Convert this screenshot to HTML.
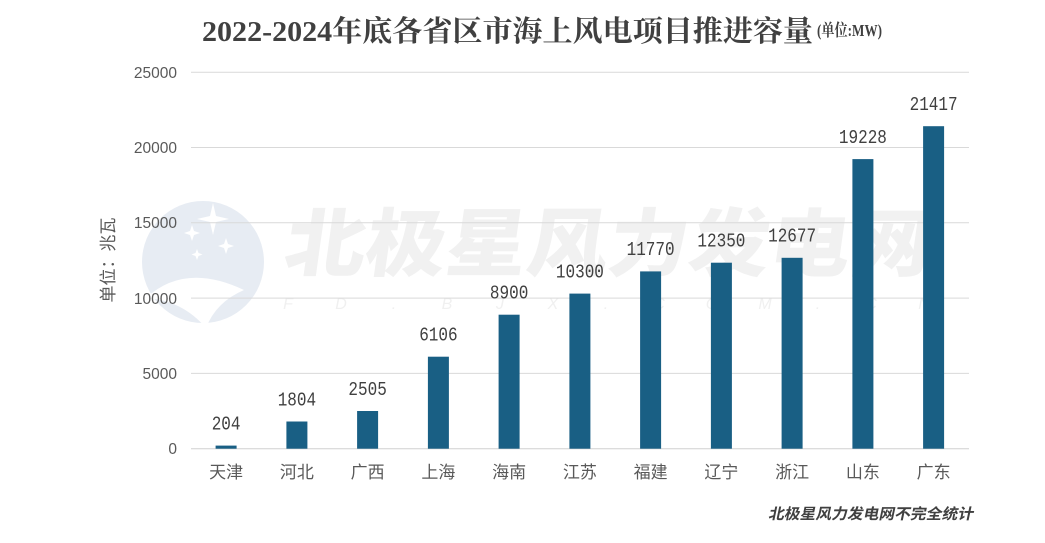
<!DOCTYPE html>
<html>
<head>
<meta charset="utf-8">
<style>
  html,body{margin:0;padding:0;background:#fff;}
  svg{display:block;}
</style>
</head>
<body>
<svg width="1045" height="543" viewBox="0 0 1045 543" xmlns="http://www.w3.org/2000/svg">
  <rect width="1045" height="543" fill="#ffffff"/>

  <!-- Watermark logo -->
  <g>
    <circle cx="203" cy="262" r="61" fill="#e7ecf3"/>
    <path d="M146 298 Q185 262 244 290 Q216 302 206 328 Q182 300 146 298 Z" fill="#ffffff"/>
    <path d="M213 203 l3 13 l13 3 l-13 3 l-3 13 l-3 -13 l-13 -3 l13 -3 z" fill="#ffffff"/>
    <path d="M192 225 l2 6 l6 2 l-6 2 l-2 6 l-2 -6 l-6 -2 l6 -2 z" fill="#ffffff"/>
    <path d="M226 238 l2 6 l6 2 l-6 2 l-2 6 l-2 -6 l-6 -2 l6 -2 z" fill="#ffffff"/>
    <path d="M197 249 l1.5 4 l4 1.5 l-4 1.5 l-1.5 4 l-1.5 -4 l-4 -1.5 l4 -1.5 z" fill="#ffffff"/>
  </g>
  <!-- Watermark text -->
  <g transform="translate(282,270) skewX(-8)">
    <text x="0" y="0" font-family="'Noto Sans CJK SC', sans-serif" font-weight="900" font-size="74" fill="#f1f1f1" textLength="646" lengthAdjust="spacingAndGlyphs">北极星风力发电网</text>
  </g>
  <g font-family="'Liberation Sans', sans-serif" font-style="italic" font-size="16" fill="#f0f0f0" text-anchor="middle">
    <text x="288" y="309">F</text><text x="341" y="309">D</text><text x="394" y="309">.</text>
    <text x="447" y="309">B</text><text x="500" y="309">J</text><text x="553" y="309">X</text>
    <text x="606" y="309">.</text><text x="659" y="309">C</text><text x="712" y="309">O</text>
    <text x="765" y="309">M</text><text x="818" y="309">.</text><text x="871" y="309">C</text>
    <text x="924" y="309">N</text>
  </g>

  <!-- Title -->
  <text x="202" y="41" font-family="'Liberation Serif','Noto Serif CJK SC',serif" font-weight="bold" font-size="29" fill="#404040" textLength="611" lengthAdjust="spacingAndGlyphs">2022-2024年底各省区市海上风电项目推进容量</text>
  <text x="817" y="36" font-family="'Liberation Serif','Noto Serif CJK SC',serif" font-weight="bold" font-size="17" fill="#404040" textLength="65" lengthAdjust="spacingAndGlyphs">(单位:MW)</text>

  <!-- Gridlines -->
  <g stroke="#d9d9d9" stroke-width="1">
    <line x1="191" y1="72.2" x2="969" y2="72.2"/>
    <line x1="191" y1="147.5" x2="969" y2="147.5"/>
    <line x1="191" y1="222.8" x2="969" y2="222.8"/>
    <line x1="191" y1="298.1" x2="969" y2="298.1"/>
    <line x1="191" y1="373.4" x2="969" y2="373.4"/>
    <line x1="191" y1="448.7" x2="969" y2="448.7" stroke="#d0d0d0"/>
  </g>

  <!-- Y tick labels -->
  <g font-family="'Liberation Sans', sans-serif" font-size="15.5" fill="#595959" text-anchor="end">
    <text x="177" y="78">25000</text>
    <text x="177" y="153">20000</text>
    <text x="177" y="228">15000</text>
    <text x="177" y="304">10000</text>
    <text x="177" y="379">5000</text>
    <text x="177" y="454">0</text>
  </g>

  <!-- Y axis title -->
  <text transform="translate(114,260) rotate(-90)" text-anchor="middle" font-family="'Liberation Sans','Noto Sans CJK SC',sans-serif" font-size="17" fill="#595959">单位：兆瓦</text>

  <!-- Bars -->
  <g fill="#195f84">
    <rect x="215.6" y="445.6" width="21" height="3.1"/>
    <rect x="286.4" y="421.5" width="21" height="27.2"/>
    <rect x="357.1" y="411.0" width="21" height="37.7"/>
    <rect x="427.9" y="356.7" width="21" height="92.0"/>
    <rect x="498.6" y="314.7" width="21" height="134.0"/>
    <rect x="569.4" y="293.6" width="21" height="155.1"/>
    <rect x="640.1" y="271.4" width="21" height="177.3"/>
    <rect x="710.9" y="262.7" width="21" height="186.0"/>
    <rect x="781.6" y="257.8" width="21" height="190.9"/>
    <rect x="852.4" y="159.1" width="21" height="289.6"/>
    <rect x="923.1" y="126.2" width="21" height="322.5"/>
  </g>

  <!-- Value labels -->
  <g font-family="'Liberation Mono', monospace" font-size="16" fill="#404040" text-anchor="middle">
    <text transform="translate(226.1,429.3) scale(1,1.2)">204</text>
    <text transform="translate(296.9,405.3) scale(1,1.2)">1804</text>
    <text transform="translate(367.6,394.8) scale(1,1.2)">2505</text>
    <text transform="translate(438.4,340.5) scale(1,1.2)">6106</text>
    <text transform="translate(509.1,298.5) scale(1,1.2)">8900</text>
    <text transform="translate(579.9,277.4) scale(1,1.2)">10300</text>
    <text transform="translate(650.6,255.2) scale(1,1.2)">11770</text>
    <text transform="translate(721.4,246.5) scale(1,1.2)">12350</text>
    <text transform="translate(792.1,241.6) scale(1,1.2)">12677</text>
    <text transform="translate(862.9,142.9) scale(1,1.2)">19228</text>
    <text transform="translate(933.6,110.0) scale(1,1.2)">21417</text>
  </g>

  <!-- Category labels -->
  <g font-family="'Liberation Sans','Noto Sans CJK SC',sans-serif" font-size="17" fill="#595959" text-anchor="middle">
    <text x="226.1" y="478">天津</text>
    <text x="296.9" y="478">河北</text>
    <text x="367.6" y="478">广西</text>
    <text x="438.4" y="478">上海</text>
    <text x="509.1" y="478">海南</text>
    <text x="579.9" y="478">江苏</text>
    <text x="650.6" y="478">福建</text>
    <text x="721.4" y="478">辽宁</text>
    <text x="792.1" y="478">浙江</text>
    <text x="862.9" y="478">山东</text>
    <text x="933.6" y="478">广东</text>
  </g>

  <!-- Footer note -->
  <g transform="translate(768,519) skewX(-12)">
    <text x="0" y="0" font-family="'Liberation Sans','Noto Sans CJK SC',sans-serif" font-weight="bold" font-size="15" fill="#404040" textLength="205" lengthAdjust="spacingAndGlyphs">北极星风力发电网不完全统计</text>
  </g>
</svg>
</body>
</html>
